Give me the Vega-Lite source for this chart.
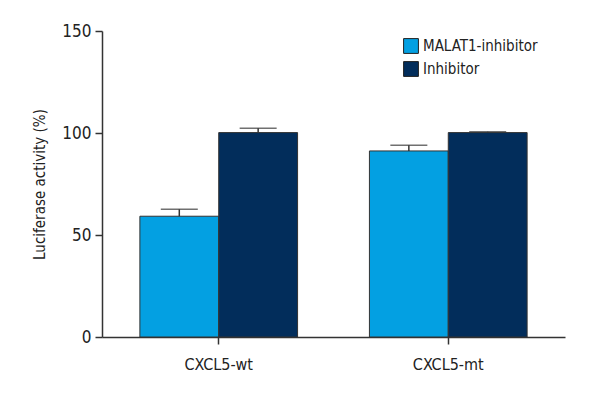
{
  "$schema": "https://vega.github.io/schema/vega-lite/v6.json",
  "width": 463,
  "height": 306,
  "autosize": "none",
  "padding": {"left": 102, "top": 31, "right": 35, "bottom": 63},
  "background": "white",
  "config": {
    "view": {"stroke": null},
    "font": "DejaVu Sans Condensed",
    "axis": {"grid": false, "domainColor": "#333", "tickColor": "#333", "domainWidth": 1.5, "tickWidth": 1.5, "labelColor": "#222", "titleColor": "#222", "labelFont": "DejaVu Sans Condensed", "titleFont": "DejaVu Sans Condensed", "titleFontWeight": "normal"},
    "legend": {"labelFont": "DejaVu Sans Condensed"}
  },
  "data": {"values": [
    {"group": "CXCL5-wt", "series": "MALAT1-inhibitor", "value": 59.2, "upper": 62.6},
    {"group": "CXCL5-wt", "series": "Inhibitor", "value": 100.2, "upper": 102.3},
    {"group": "CXCL5-mt", "series": "MALAT1-inhibitor", "value": 91.2, "upper": 94.0},
    {"group": "CXCL5-mt", "series": "Inhibitor", "value": 100.2, "upper": 100.6}
  ]},
  "encoding": {
    "x": {"field": "group", "type": "nominal", "sort": ["CXCL5-wt", "CXCL5-mt"],
      "scale": {"paddingInner": 0.313, "paddingOuter": 0.165},
      "axis": {"title": null, "labelAngle": 0, "labelFontSize": 16, "tickSize": 7, "labelPadding": 12}},
    "xOffset": {"field": "series", "type": "nominal", "sort": ["MALAT1-inhibitor", "Inhibitor"], "scale": {"paddingInner": 0, "paddingOuter": 0}}
  },
  "layer": [
    {
      "mark": {"type": "bar", "stroke": "#333", "strokeWidth": 1},
      "encoding": {
        "y": {"field": "value", "type": "quantitative", "scale": {"domain": [0, 150], "nice": false},
          "axis": {"values": [0, 50, 100, 150], "title": "Luciferase activity (%)", "titleFontSize": 15, "labelFontSize": 17, "tickSize": 7, "labelPadding": 4, "titlePadding": 14}},
        "color": {"field": "series", "type": "nominal", "sort": ["MALAT1-inhibitor", "Inhibitor"],
          "scale": {"domain": ["MALAT1-inhibitor", "Inhibitor"], "range": ["#03a0e2", "#022d5b"]},
          "legend": {"title": null, "orient": "none", "legendX": 301, "legendY": 7, "symbolType": "square", "symbolSize": 220, "symbolStrokeColor": "#222", "symbolStrokeWidth": 1, "labelFontSize": 15, "labelColor": "#222", "rowPadding": 3, "symbolOpacity": 1}}
      }
    },
    {
      "mark": {"type": "rule", "color": "#333", "strokeWidth": 1.5},
      "encoding": {"y": {"field": "value", "type": "quantitative", "scale": {"domain": [0, 150], "nice": false}}, "y2": {"field": "upper"}}
    },
    {
      "mark": {"type": "tick", "color": "#333", "thickness": 1.5, "size": 37},
      "encoding": {"y": {"field": "upper", "type": "quantitative", "scale": {"domain": [0, 150], "nice": false}}}
    }
  ]
}
